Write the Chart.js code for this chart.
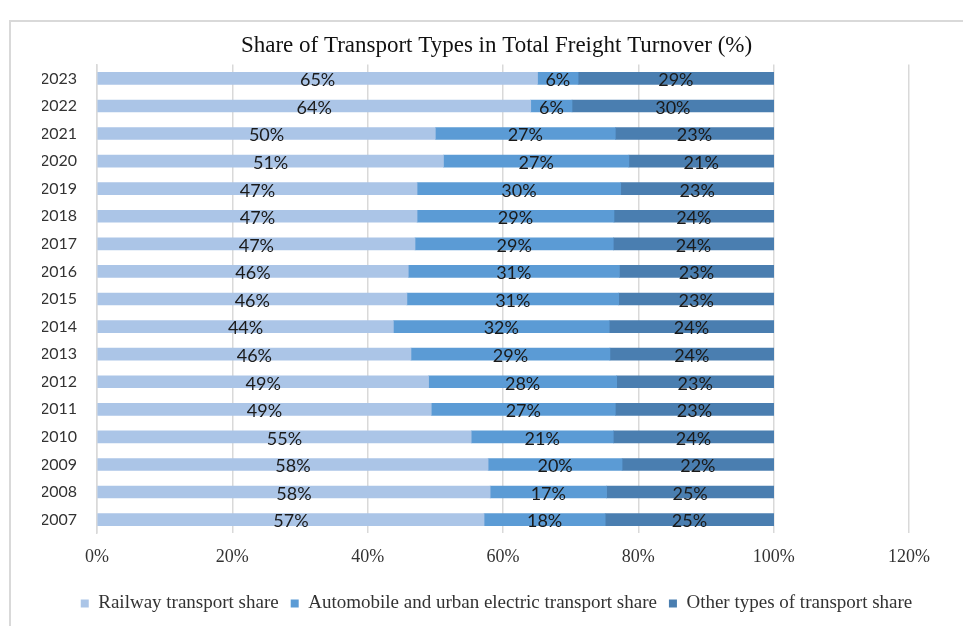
<!DOCTYPE html>
<html>
<head>
<meta charset="utf-8">
<script src="https://cdn.jsdelivr.net/npm/chart.js@4.4.1/dist/chart.umd.min.js"></script>
<style>
    html, body { margin: 0; padding: 0; background: #fff; }
    #wrap { position: relative; width: 963px; height: 626px; overflow: hidden; }
    #frame {
        position: absolute; left: 9px; top: 20px; width: 1000px; height: 700px;
        border: 2px solid #d9d9d9; pointer-events: none;
    }
</style>
</head>
<body>
<div id="wrap">
    <canvas id="chart" width="963" height="626"></canvas>
    <div id="frame"></div>
</div>
<script>
// --- Data ---
const years = ['2023', '2022', '2021', '2020', '2019', '2018', '2017', '2016', '2015',
               '2014', '2013', '2012', '2011', '2010', '2009', '2008', '2007'];
const railway = [65.1, 64.1, 50.0, 51.2, 47.3, 47.3, 47.0, 46.0, 45.8,
                 43.8, 46.4, 49.0, 49.4, 55.3, 57.8, 58.1, 57.2];
const automobile = [6.0, 6.1, 26.6, 27.4, 30.1, 29.1, 29.3, 31.2, 31.3,
                    31.9, 29.4, 27.8, 27.2, 21.0, 19.8, 17.2, 17.9];
const other = [28.9, 29.8, 23.4, 21.4, 22.6, 23.6, 23.7, 22.8, 22.9,
               24.3, 24.2, 23.2, 23.4, 23.7, 22.4, 24.7, 24.9];
const seriesNames = ['Railway transport share',
                     'Automobile and urban electric transport share',
                     'Other types of transport share'];
const xTicks = [0, 20, 40, 60, 80, 100, 120];

const colors = ['#abc5e7', '#5b9bd5', '#4a7eb0'];
const serif = "'Liberation Serif', 'Times New Roman', serif";
const sans = "Lato, 'Open Sans', sans-serif";

// Draws the rounded percentage in the middle of every segment
const segmentLabels = {
    id: 'segmentLabels',
    afterDatasetsDraw(chart) {
        const ctx = chart.ctx;
        ctx.save();
        ctx.font = '18px ' + sans;
        ctx.fillStyle = '#1a1a1a';
        ctx.textAlign = 'center';
        ctx.textBaseline = 'middle';
        chart.data.datasets.forEach((ds, i) => {
            chart.getDatasetMeta(i).data.forEach((bar, j) => {
                const cx = (bar.x + bar.base) / 2;
                ctx.fillText(Math.round(ds.data[j]) + '%', cx, bar.y + 2);
            });
        });
        ctx.restore();
    }
};

new Chart(document.getElementById('chart'), {
    type: 'bar',
    data: {
        labels: years,
        datasets: [
            { label: seriesNames[0], data: railway, backgroundColor: colors[0] },
            { label: seriesNames[1], data: automobile, backgroundColor: colors[1] },
            { label: seriesNames[2], data: other, backgroundColor: colors[2] }
        ]
    },
    options: {
        indexAxis: 'y',
        responsive: false,
        animation: false,
        barThickness: 12,
        layout: { padding: { left: 42, right: 12, top: 32, bottom: 3 } },
        scales: {
            x: {
                stacked: true,
                min: 0,
                max: 120,
                afterBuildTicks: s => { s.ticks = xTicks.map(v => ({ value: v })); },
                afterFit: s => { s.height += 1; },
                ticks: {
                    callback: v => v + '%',
                    font: { family: serif, size: 18 },
                    color: '#333',
                    padding: 13
                },
                grid: { color: '#d9d9d9', lineWidth: 1.5, drawTicks: false },
                border: { display: false }
            },
            y: {
                stacked: true,
                afterFit: s => { s.width = 55; },
                ticks: { font: { family: sans, size: 16 }, color: '#333', padding: 12 },
                grid: { display: false },
                border: { color: '#d9d9d9', width: 1.5 }
            },
            spacer: {
                type: 'linear',
                position: 'right',
                display: true,
                afterFit: s => { s.width = 42; },
                ticks: { display: false },
                grid: { display: false },
                border: { display: false }
            }
        },
        plugins: {
            title: {
                display: true,
                text: 'Share of Transport Types in Total Freight Turnover (%)',
                font: { family: serif, size: 23, weight: 'normal' },
                color: '#111',
                padding: { top: 0, bottom: 5 }
            },
            legend: {
                position: 'bottom',
                labels: {
                    font: { family: serif, size: 19 },
                    color: '#333',
                    boxWidth: 8,
                    boxHeight: 8,
                    padding: 12
                }
            },
            tooltip: { enabled: false }
        }
    },
    plugins: [segmentLabels]
});
</script>
</body>
</html>
